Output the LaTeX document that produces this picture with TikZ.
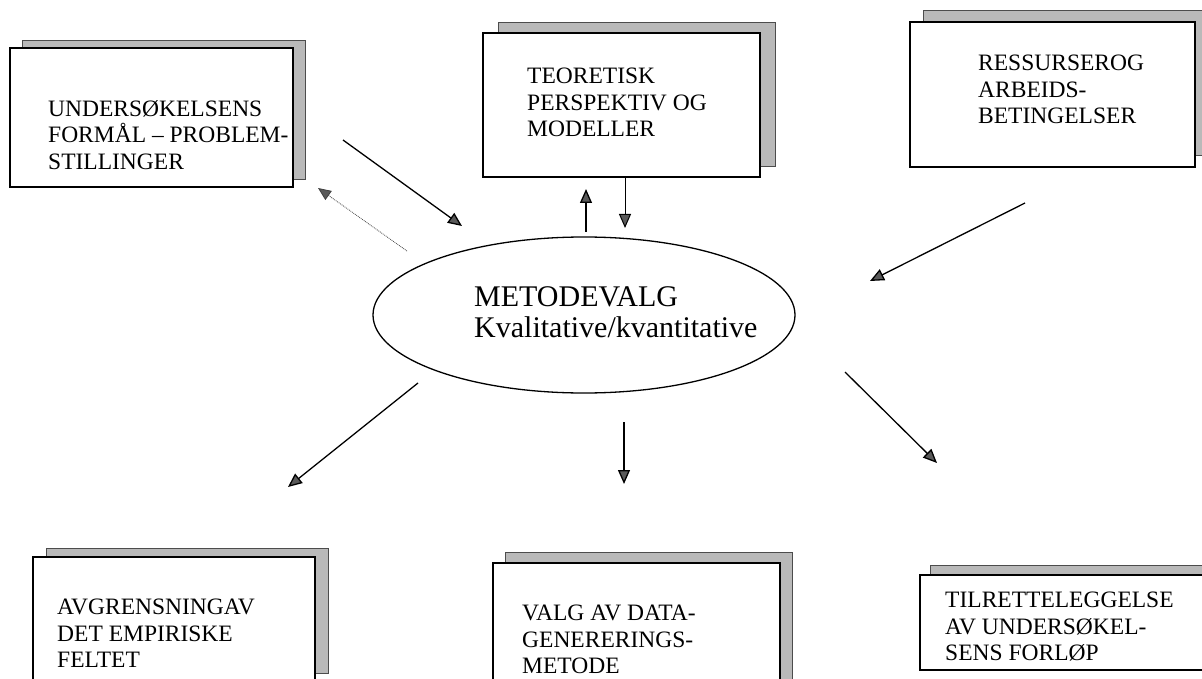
\documentclass[tikz,border=0pt]{standalone}
\usepackage{fontspec}
\setmainfont{Liberation Serif}
\usetikzlibrary{arrows.meta,shadows,shapes.geometric}
\begin{document}
\begin{tikzpicture}[x=1pt,y=-1pt,
  box/.style={draw=black, line width=1.4pt, fill=white, inner sep=0pt},
  shad/.style 2 args={general shadow={shadow xshift=#1pt, shadow yshift=#2pt, fill=gray!55, draw=black!70, line width=0.8pt}},
  txt/.style={font=\fontsize{23.5}{26.5}\selectfont, align=left, anchor=north west, inner sep=0pt},
  bigtxt/.style={font=\fontsize{30}{31}\selectfont, align=left, anchor=north west, inner sep=0pt},
  tip/.style={-{Triangle[length=14pt,width=12pt,fill=black!65]}},
  arr/.style={line width=1.3pt, tip},
  dotarr/.style={line width=0.8pt, draw=black!75, densely dotted, -{Triangle[length=13pt,width=11pt,fill=black!65]}}
]
\useasboundingbox (0,0) rectangle (1202,679);
% boxes
\node[box, shad={12}{8}, minimum width=283pt, minimum height=139pt] (b1) at (151.5,117.5) {};
\node[box, shad={15}{11}, minimum width=277pt, minimum height=144pt] (b2) at (621.5,105) {};
\node[box, shad={13}{12}, minimum width=285pt, minimum height=145pt] (b3) at (1052.5,94.5) {};
\node[box, shad={13}{9}, minimum width=282pt, minimum height=125pt] (b4) at (174,619.5) {};
\node[box, shad={12}{11}, minimum width=287pt, minimum height=127pt] (b5) at (636.5,626.5) {};
\node[box, shad={10}{10}, minimum width=284pt, minimum height=95pt] (b6) at (1062,622.5) {};
% texts
\node[txt] (t1) at (48,100) {UNDERSØKELSENS\\FORMÅL – PROBLEM-\\STILLINGER};
\node[txt] (t2) at (527,68) {TEORETISK\\PERSPEKTIV OG\\MODELLER};
\node[txt] (t3) at (978,55) {RESSURSEROG\\ARBEIDS-\\BETINGELSER};
\node[txt] (t4) at (57,599) {AVGRENSNINGAV\\DET EMPIRISKE\\FELTET};
\node[txt] (t5) at (522,605) {VALG AV DATA-\\GENERERINGS-\\METODE};
\node[txt] (t6) at (945,592) {TILRETTELEGGELSE\\AV UNDERSØKEL-\\SENS FORLØP};
% ellipse
\node[ellipse, draw=black, line width=1.3pt, minimum width=422pt, minimum height=156pt, inner sep=0pt] (m) at (584,315) {};
\node[bigtxt] (mt) at (474,286) {METODEVALG\\Kvalitative/kvantitative};
% arrow end points
\coordinate (a1s) at (343,140); \coordinate (a1e) at (462,226);
\coordinate (a2s) at (407,251); \coordinate (a2e) at (318,188);
\coordinate (a3s) at (586,232); \coordinate (a3e) at (586,189);
\coordinate (a4s) at (625,177); \coordinate (a4e) at (625,228);
\coordinate (a5s) at (1025,203); \coordinate (a5e) at (870,281);
\coordinate (a6s) at (418,383); \coordinate (a6e) at (288,487);
\coordinate (a7s) at (624,422); \coordinate (a7e) at (624,484);
\coordinate (a8s) at (845,372); \coordinate (a8e) at (937,463);
\draw[arr] (a1s) -- (a1e);
\draw[dotarr] (a2s) -- (a2e);
\draw[arr] (a3s) -- (a3e);
\draw[arr, line width=1pt] (a4s) -- (a4e);
\draw[arr] (a5s) -- (a5e);
\draw[arr] (a6s) -- (a6e);
\draw[arr] (a7s) -- (a7e);
\draw[arr] (a8s) -- (a8e);
\end{tikzpicture}
\end{document}
